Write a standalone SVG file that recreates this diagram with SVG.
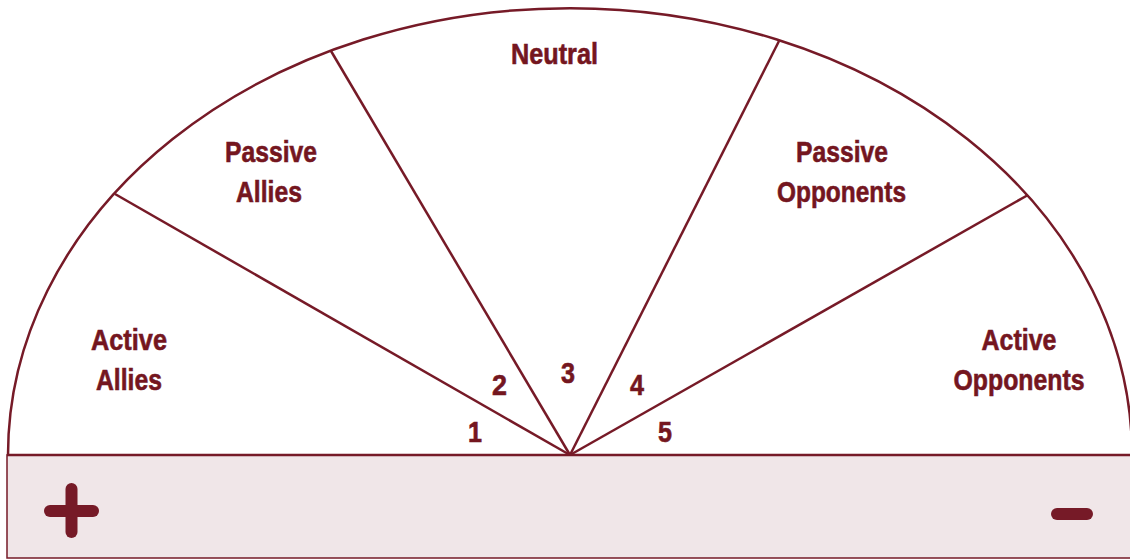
<svg xmlns="http://www.w3.org/2000/svg" width="1130" height="559" viewBox="0 0 1130 559">
  <style>
    .ln { fill: none; stroke: #761a27; stroke-width: 2.5; }
    .lbl { font-family: "Liberation Sans", Arial, sans-serif; font-weight: bold; font-size: 29.5px; fill: #74161f; stroke: #74161f; stroke-width: 0.6; text-anchor: middle; }
    .num { font-family: "Liberation Sans", Arial, sans-serif; font-weight: bold; font-size: 29.5px; fill: #74161f; stroke: #74161f; stroke-width: 0.6; text-anchor: middle; }
    .sym { stroke: #761a27; stroke-width: 12; stroke-linecap: round; fill: none; }
  </style>
  <rect width="1130" height="559" fill="#ffffff"/>
  <g id="band">
    <rect x="7" y="455" width="1140" height="103" fill="#f0e6e8" stroke="#761a27" stroke-width="1.5"/>
    <line class="ln" x1="7" y1="455" x2="1130" y2="455" stroke-width="3"/>
    <line class="sym" x1="50" y1="511" x2="93" y2="511"/>
    <line class="sym" x1="71.5" y1="489" x2="71.5" y2="532"/>
    <line class="sym" x1="1057" y1="514" x2="1087" y2="514"/>
  </g>
  <g id="connectors">
    <path class="ln" d="M 8 455 A 562 447 0 0 1 1132 455"/>
    <line class="ln" x1="570" y1="455" x2="115" y2="194"/>
    <line class="ln" x1="570" y1="455" x2="331" y2="51"/>
    <line class="ln" x1="570" y1="455" x2="779" y2="41"/>
    <line class="ln" x1="570" y1="455" x2="1028" y2="195"/>
  </g>
  <g id="active-allies">
    <text class="lbl" x="129" y="350" textLength="76" lengthAdjust="spacingAndGlyphs">Active</text>
    <text class="lbl" x="129" y="390" textLength="66" lengthAdjust="spacingAndGlyphs">Allies</text>
    <text class="num" x="475" y="442" textLength="14" lengthAdjust="spacingAndGlyphs">1</text>
  </g>
  <g id="passive-allies">
    <text class="lbl" x="271" y="162" textLength="92" lengthAdjust="spacingAndGlyphs">Passive</text>
    <text class="lbl" x="269" y="202" textLength="66" lengthAdjust="spacingAndGlyphs">Allies</text>
    <text class="num" x="499.5" y="395" textLength="15" lengthAdjust="spacingAndGlyphs">2</text>
  </g>
  <g id="neutral">
    <text class="lbl" x="554.5" y="64" textLength="87" lengthAdjust="spacingAndGlyphs">Neutral</text>
    <text class="num" x="568" y="383" textLength="14" lengthAdjust="spacingAndGlyphs">3</text>
  </g>
  <g id="passive-opponents">
    <text class="lbl" x="842" y="162" textLength="92" lengthAdjust="spacingAndGlyphs">Passive</text>
    <text class="lbl" x="841.5" y="202" textLength="129" lengthAdjust="spacingAndGlyphs">Opponents</text>
    <text class="num" x="637" y="395" textLength="14" lengthAdjust="spacingAndGlyphs">4</text>
  </g>
  <g id="active-opponents">
    <text class="lbl" x="1019" y="350" textLength="75" lengthAdjust="spacingAndGlyphs">Active</text>
    <text class="lbl" x="1019" y="390" textLength="131" lengthAdjust="spacingAndGlyphs">Opponents</text>
    <text class="num" x="665" y="442" textLength="14" lengthAdjust="spacingAndGlyphs">5</text>
  </g>
</svg>
